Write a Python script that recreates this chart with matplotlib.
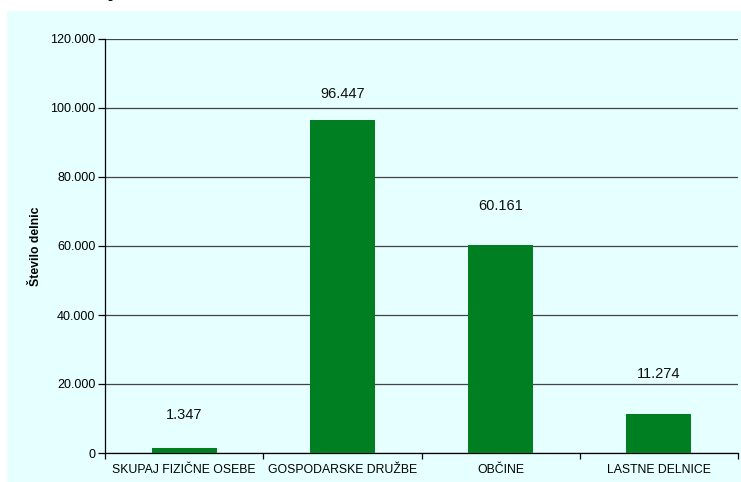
import matplotlib.pyplot as plt
from matplotlib.patches import Rectangle
from matplotlib.ticker import FuncFormatter

# Data
categories = ['SKUPAJ FIZIČNE OSEBE', 'GOSPODARSKE DRUŽBE', 'OBČINE', 'LASTNE DELNICE']
values = [1347, 96447, 60161, 11274]
value_labels = ['1.347', '96.447', '60.161', '11.274']
label_y = [11000, 104000, 71600, 22900]

plt.rcParams['font.family'] = ['Liberation Sans', 'DejaVu Sans']

W, H = 741, 482
fig = plt.figure(figsize=(W / 100, H / 100), dpi=100)
fig.patch.set_facecolor('white')

# light cyan chart area
fig.patches.append(Rectangle((7 / W, 0), 1, 1 - 11 / H, transform=fig.transFigure,
                             facecolor='#E6FFFF', edgecolor='none', zorder=-10))
# descender of cut-off title
fig.text(111 / W, 1 + 4 / H, 'j', fontsize=16, fontweight='bold', ha='center', va='baseline')

ax = fig.add_axes([105 / W, 1 - 453 / H, (738 - 105) / W, (453 - 39) / H])
ax.set_facecolor('none')

x = range(len(categories))
ax.bar(x, values, width=0.41, color='#007F22', zorder=3)

for xi, txt, ly in zip(x, value_labels, label_y):
    ax.text(xi, ly, txt, ha='center', va='center', fontsize=10.5, color='#111111')

ax.set_xlim(-0.5, 3.5)
ax.set_ylim(0, 120000)
ax.set_yticks(range(0, 120001, 20000))
ax.yaxis.set_major_formatter(FuncFormatter(lambda v, p: f'{int(v):,}'.replace(',', '.')))
ax.yaxis.grid(True, color='#444444', linewidth=0.9, zorder=1)
ax.set_axisbelow(True)

ax.set_xticks(list(x))
ax.set_xticklabels(categories, fontsize=8.8)
ax.set_xticks([-0.5, 0.5, 1.5, 2.5, 3.5], minor=True)
ax.tick_params(axis='x', which='major', length=0, pad=8)
ax.tick_params(axis='x', which='minor', length=4, direction='out', width=0.9)
ax.tick_params(axis='y', length=5, width=0.9, labelsize=9, pad=2)

for s in ['top', 'right']:
    ax.spines[s].set_visible(False)
ax.spines['left'].set_linewidth(0.9)
ax.spines['bottom'].set_linewidth(0.9)

ax.set_ylabel('Število delnic', fontsize=8.8, fontweight='bold', labelpad=6)

fig.savefig('out.png', dpi=100)
